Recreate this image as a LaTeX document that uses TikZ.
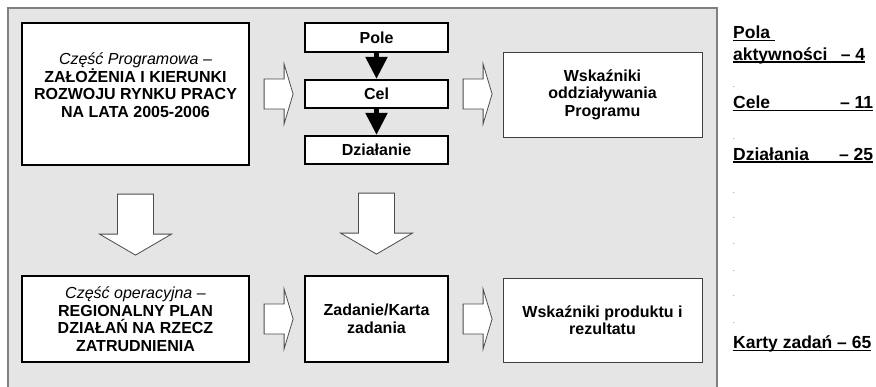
\documentclass[tikz,border=0pt]{standalone}
\usepackage{fontspec}
\setmainfont{Liberation Sans}
\usetikzlibrary{arrows.meta,calc}

\newcommand\ulline[1]{\setbox0\hbox{#1}\rlap{\rule[-2.6pt]{\wd0}{1.3pt}}\box0}

\begin{document}
\begin{tikzpicture}[x=1pt,y=-1pt,
  box/.style={draw=black,line width=2.2pt,fill=white,align=center,inner sep=2pt,font=\bfseries\fontsize{16}{17.5}\selectfont},
  thinbox/.style={box,draw=black!75,line width=1pt},
  flow/.style={line width=5pt,-{Triangle[width=21pt,length=22pt]}},
  hollow/.style={draw=black!70,line width=.8pt,fill=white},
  fat right/.style={to path={($(\tikztostart.east)+(14,-15)$) -- ++(20,0) -- ++(0,-15) -- ++(9,30) -- ++(-9,30) -- ++(0,-15) -- ++(-20,0) -- cycle}},
  fat down/.style={to path={($(\tikztostart.south)+(-18,28)$) -- ++(0,40) -- ++(-18,0) -- ++(36,21) -- ++(36,-21) -- ++(-18,0) -- ++(0,-40) -- cycle}},
  count/.style={anchor=base west,inner sep=0pt,font=\bfseries\fontsize{17.5}{20}\selectfont},
  dot/.style={anchor=base west,inner sep=0pt,font=\fontsize{6}{7}\selectfont}]
\useasboundingbox (0,0) rectangle (876,386);
\draw[fill=black!10,draw=black!50,line width=1.3pt] (8,8) rectangle (717,396);

\node[box,minimum width=227pt,minimum height=142pt] (prog) at (135.5,94) {{\mdseries\itshape Część Programowa –}\\ZAŁOŻENIA I KIERUNKI\\ROZWOJU RYNKU PRACY\\NA LATA 2005-2006\\~};
\node[box,minimum width=143pt,minimum height=29pt] (pole) at (376.5,37.5) {Pole};
\node[box,minimum width=143pt,minimum height=28pt] (cel) at (376.5,94) {Cel};
\node[box,minimum width=143pt,minimum height=28pt] (dzialanie) at (376.5,150) {Działanie};
\node[thinbox,minimum width=199pt,minimum height=85pt] (wskodd) at (602.5,94.5) {Wskaźniki\\oddziaływania\\Programu};
\node[box,minimum width=227pt,minimum height=86pt] (oper) at (135.5,319) {{\mdseries\itshape Część operacyjna –}\\REGIONALNY PLAN\\DZIAŁAŃ NA RZECZ\\ZATRUDNIENIA};
\node[box,minimum width=143pt,minimum height=86pt] (zadanie) at (376.5,319) {Zadanie/Karta\\zadania};
\node[thinbox,minimum width=199pt,minimum height=84pt] (wskprod) at (602.5,320) {Wskaźniki produktu i\\rezultatu};

\draw[flow] (pole) -- (cel);
\draw[flow] (cel) -- (dzialanie);
\draw[hollow] (prog) to[fat right] (cel);
\draw[hollow] (cel) to[fat right] (wskodd);
\draw[hollow] (oper) to[fat right] (zadanie);
\draw[hollow] (zadanie) to[fat right] (wskprod);
\draw[hollow] (prog) to[fat down] (oper);
\draw[hollow] (dzialanie) to[fat down] (zadanie);

\node[count] (pola) at (733,38.5) {\ulline{Pola\ }};
\node[count] (aktyw) at (733,60) {\ulline{\makebox[132pt][l]{aktywności\hfill– 4}}};
\node[dot] (d1) at (733,87) {.};
\node[count] (cele) at (733,108.5) {\ulline{\makebox[140pt][l]{Cele\hfill– 11}}};
\node[dot] (d2) at (733,139) {.};
\node[count] (dzial) at (733,160) {\ulline{\makebox[140pt][l]{Działania\hfill– 25}}};
\node[dot] (d3) at (733,193) {.};
\node[dot] (d4) at (733,218) {.};
\node[dot] (d5) at (733,244) {.};
\node[dot] (d6) at (733,271) {.};
\node[dot] (d7) at (733,296) {.};
\node[dot] (d8) at (733,323) {.};
\node[count] (karty) at (733,348.5) {\ulline{Karty zadań – 65}};
\end{tikzpicture}
\end{document}
